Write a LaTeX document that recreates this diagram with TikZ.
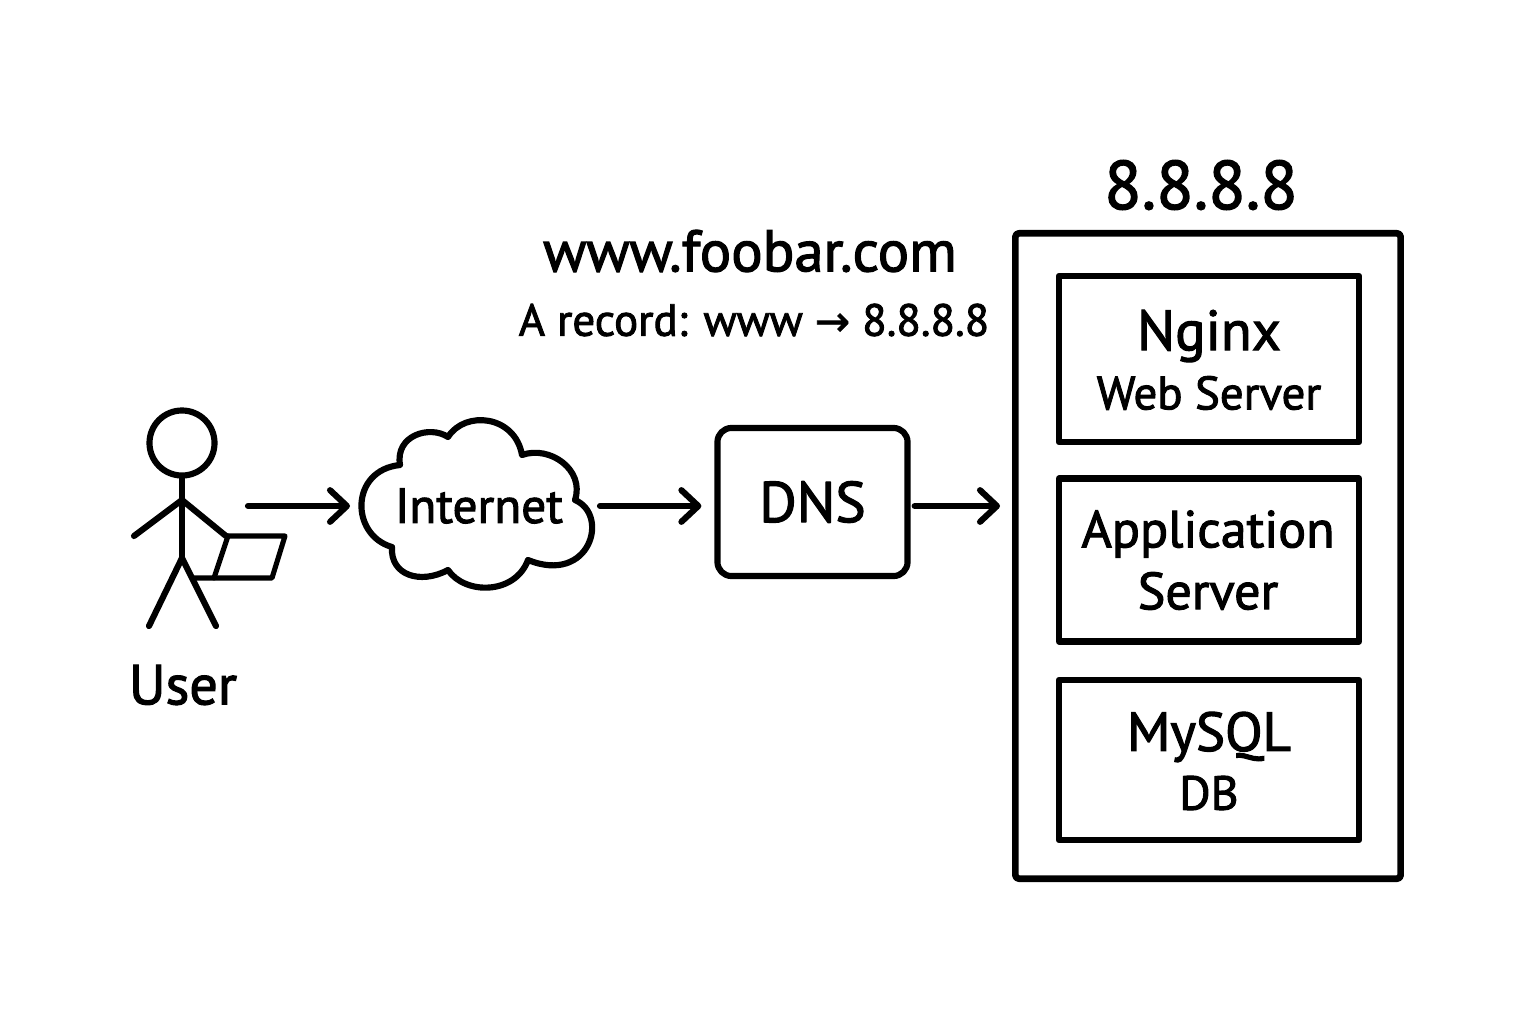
\documentclass[tikz,border=0pt]{standalone}
\usepackage{fontspec}
\setmainfont[FakeBold=2]{PT Sans}
\newfontfamily\arrowfont[FakeBold=1.5]{DejaVu Sans}
\usepackage{tikz}
\usetikzlibrary{arrows.meta,positioning,calc}
\tikzset{
    heavy/.style={line width=1.75pt, line join=round, line cap=round, black},
    thin line/.style={line width=1.45pt, line join=round, line cap=round, black},
    flow/.style={heavy, -{Straight Barb[round,length=4.8pt,width=9pt,line width=1.75pt]}},
    tier/.style={draw, heavy, minimum width=3cm, align=center},
}
\begin{document}
\begin{tikzpicture}[x=0.01cm, y=-0.01cm]
    \useasboundingbox (0,0) rectangle (1536,1024);

    % Stick figure with laptop
    \node[circle, draw, heavy, minimum size=0.65cm, inner sep=0pt] (head) at (182,443) {};
    \coordinate (hip) at (182,558);
    \coordinate (neck) at (182,500);
    \draw[heavy] (head) -- (hip);
    \draw[heavy] (134,536) -- (neck) -- (226,536);
    \draw[heavy] (149,626) -- (hip) -- (216,626);
    \draw[thin line] (226,536) -- (285,536) -- (272,578) -- (194,578);
    \draw[thin line] (228,536) -- (214,578);
    \node[font=\fontsize{16}{19}\selectfont] (user) at (183,685) {User};

    % Internet cloud
    \draw[heavy] (400,465)
        .. controls (395,435) and (430,425) .. (448,437)
        .. controls (465,410) and (515,415) .. (522,455)
        .. controls (550,445) and (585,470) .. (575,500)
        .. controls (610,515) and (590,585) .. (528,560)
        .. controls (515,595) and (465,595) .. (448,570)
        .. controls (420,585) and (390,575) .. (392,547)
        .. controls (350,535) and (350,470) .. (400,465) -- cycle;
    \node[font=\fontsize{14}{17}\selectfont] (internet) at (479,506) {Internet};
    \coordinate (cloudw) at (350,506);
    \coordinate (cloude) at (600,506);

    % DNS
    \node[draw, heavy, rounded corners=4pt, minimum width=1.9cm, minimum height=1.48cm,
          font=\fontsize{16.3}{20}\selectfont] (dns) at (812.5,502) {DNS};
    \node[font=\fontsize{16.7}{20}\selectfont] (domain) at (750,251) {www.foobar.com};
    \node[font=\fontsize{12.8}{16}\selectfont] (record) at (754,320) {A record: www {\arrowfont\fontsize{12}{16}\selectfont →} 8.8.8.8};

    % Server
    \node[font=\fontsize{19.5}{24}\selectfont] (ip) at (1201,185) {8.8.8.8};
    \node[draw, heavy, line width=1.9pt, rounded corners=1pt, minimum width=3.85cm, minimum height=6.45cm] (server) at (1208,556) {};
    \node[tier, minimum height=1.66cm] (nginx) at (1209,359) {};
    \node[tier, minimum height=1.63cm] (app) at (1209,560) {};
    \node[tier, minimum height=1.6cm] (mysql) at (1209,760) {};
    \node[font=\fontsize{16.1}{20}\selectfont] at (1209,336) {Nginx};
    \node[font=\fontsize{13.3}{17}\selectfont] at (1209,393) {Web Server};
    \node[font=\fontsize{14.8}{19}\selectfont] at (1208,534) {Application};
    \node[font=\fontsize{14.8}{19}\selectfont] at (1208,591) {Server};
    \node[font=\fontsize{15.6}{20}\selectfont] at (1209,737) {MySQL};
    \node[font=\fontsize{13.6}{18}\selectfont] at (1209,793) {DB};

    % Arrows
    \coordinate (userout) at (248,506);
    \coordinate (serverin) at (1000,506);
    \draw[flow] (userout) -- (cloudw);
    \draw[flow, shorten >=0.13cm] (cloude) -- (dns.west |- cloude);
    \draw[flow, shorten <=0.04cm] (dns.east |- serverin) -- (serverin);
\end{tikzpicture}
\end{document}
